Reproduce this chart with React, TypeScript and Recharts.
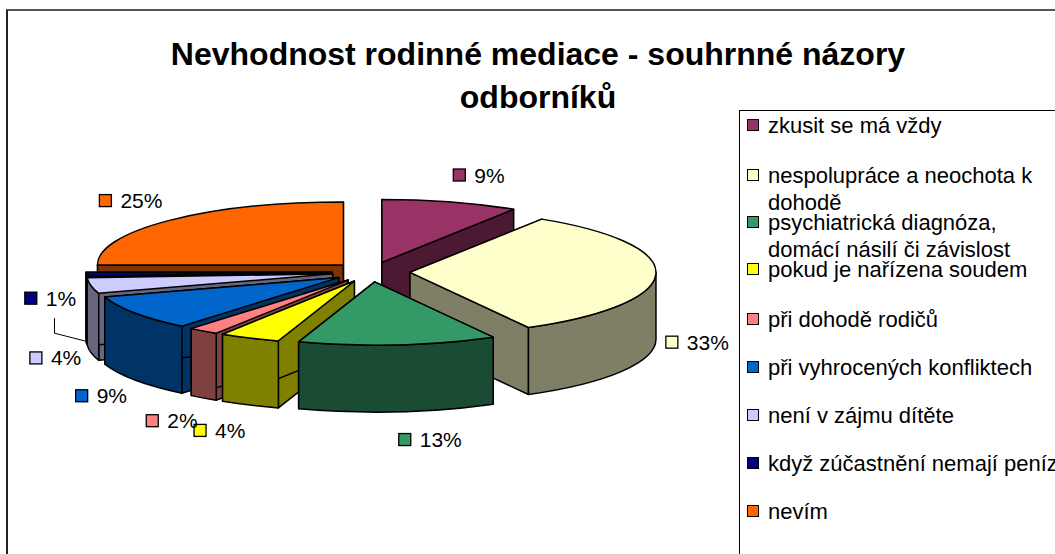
import React from "react";
import { PieChart, Pie, Legend } from "recharts";

// answers in the order they go round the pie, clockwise from 12 o'clock
const categories = [
  "zkusit se má vždy",
  "nespolupráce a neochota k\ndohodě",
  "psychiatrická diagnóza,\ndomácí násilí či závislost",
  "pokud je nařízena soudem",
  "při dohodě rodičů",
  "při vyhrocených konfliktech",
  "není v zájmu dítěte",
  "když zúčastnění nemají peníze",
  "nevím",
];
const shares = [9, 33, 13, 4, 2, 9, 4, 1, 25];

const topColors = [
  "#993366",
  "#FFFFCC",
  "#339966",
  "#FFFF00",
  "#FF8080",
  "#0066CC",
  "#CCCCFF",
  "#000080",
  "#FF6600",
];

const data = categories.map((name, i) => ({ name, value: shares[i] }));

const RAD = Math.PI / 180;
const CX = 371;
const CY = 272;
const RX = 246;
const TILT = 63 / 246;
const DEPTH = 67;
const EXPLODE = 39;
const LABEL_RX = 295;
const LABEL_RY = 101;
const FONT = 21;
const LEGEND_FONT = 22;
const FONT_FAMILY = '"Liberation Sans", Arial, Helvetica, sans-serif';

// first line centre of every legend entry, measured from the inside of the box
const legendRows = [14, 64, 111, 158, 208, 256, 304, 352, 400];

const shade = (hex: string) => {
  const n = parseInt(hex.slice(1), 16);
  return `rgb(${((n >> 16) & 255) >> 1},${((n >> 8) & 255) >> 1},${(n & 255) >> 1})`;
};

// paint the back slices first, the front ones over them
const total = shares.reduce((a, b) => a + b, 0);
let acc = 0;
const drawOrder = shares
  .map((v, i) => {
    const mid = ((acc + v / 2) / total) * 360;
    acc += v;
    return { name: categories[i], back: Math.cos(mid * RAD) };
  })
  .sort((a, b) => b.back - a.back)
  .map((d) => d.name);

function slice3d(p: any, only: string) {
  const name = p.payload?.name ?? p.name;
  if (name !== only) return <g />;
  const i = categories.indexOf(name);
  const top = topColors[i];
  const side = shade(top);
  const rx = p.outerRadius;
  const ry = rx * TILT;
  const m = p.midAngle * RAD;
  const ox = p.cx + EXPLODE * Math.cos(m);
  const oy = p.cy - EXPLODE * TILT * Math.sin(m);
  const hi = Math.max(p.startAngle, p.endAngle);
  const lo = Math.min(p.startAngle, p.endAngle);
  const pt = (deg: number, dz = 0) =>
    `${(ox + rx * Math.cos(deg * RAD)).toFixed(2)},${(oy - ry * Math.sin(deg * RAD) + dz).toFixed(2)}`;
  const c0 = `${ox.toFixed(2)},${oy.toFixed(2)}`;
  const c1 = `${ox.toFixed(2)},${(oy + DEPTH).toFixed(2)}`;
  const radial = (deg: number) => `M${c0} L${pt(deg)} L${pt(deg, DEPTH)} L${c1} Z`;
  const large = hi - lo > 180 ? 1 : 0;
  const topPath = `M${c0} L${pt(hi)} A${rx},${ry} 0 ${large} 1 ${pt(lo)} Z`;
  const fHi = Math.min(hi, 0);
  const fLo = Math.max(lo, -180);
  const wall =
    fHi > fLo
      ? `M${pt(fHi)} A${rx},${ry} 0 0 1 ${pt(fLo)} L${pt(fLo, DEPTH)} A${rx},${ry} 0 0 0 ${pt(fHi, DEPTH)} Z`
      : null;
  const line = { stroke: "#000", strokeWidth: 1.5, strokeLinejoin: "round" as const };
  return (
    <g>
      <path d={radial(hi)} fill={side} {...line} />
      <path d={radial(lo)} fill={side} {...line} />
      {wall && <path d={wall} fill={side} {...line} />}
      <path d={topPath} fill={top} {...line} />
    </g>
  );
}

const renderLabel = (p: any) => {
  const name = p.payload?.name ?? p.name;
  const i = categories.indexOf(name);
  const m = p.midAngle * RAD;
  const cosM = Math.cos(m);
  const sinM = Math.sin(m);
  let y = p.cy - LABEL_RY * sinM + (sinM < 0 ? DEPTH : 0);
  const ax = p.cx + LABEL_RX * cosM;
  const text = `${p.value}%`;
  const tw = FONT * (0.556 * (text.length - 1) + 0.889);
  const left = cosM >= 0 ? ax : ax - tw - 21;
  const small = p.percent < 0.015;
  let leader = null;
  if (small) {
    // tiny slice: label moved up, with a leader line down to the slice
    y -= 44;
    const lx = left + (21 + tw) / 2 + 4;
    const sx = p.cx + (EXPLODE + p.outerRadius) * cosM;
    const sy = p.cy - (EXPLODE + p.outerRadius) * TILT * sinM + DEPTH;
    leader = (
      <polyline
        points={`${lx},${y + 20} ${lx},${y + 35} ${sx},${sy}`}
        fill="none"
        stroke="#000"
        strokeWidth={1}
      />
    );
  }
  return (
    <g key={`lbl-${i}`}>
      {leader}
      <rect x={left} y={y - 6} width={12} height={12} fill={topColors[i]} stroke="#000" strokeWidth={1.3} />
      <text
        x={left + 21}
        y={y}
        dominantBaseline="central"
        fontSize={FONT}
        fontFamily={FONT_FAMILY}
        fill="#000"
      >
        {text}
      </text>
    </g>
  );
};

const renderLegend = (props: any) => {
  const present = new Set<string>((props.payload || []).map((e: any) => e.value));
  const names = present.size ? categories.filter((c) => present.has(c)) : categories;
  return (
    <div
      style={{
        position: "relative",
        width: 340,
        height: 460,
        border: "1px solid #000",
        boxSizing: "border-box",
        background: "#fff",
        fontFamily: FONT_FAMILY,
        fontSize: LEGEND_FONT,
        color: "#000",
      }}
    >
      {names.map((n, k) => {
        const i = categories.indexOf(n);
        const cy = legendRows[k];
        return (
          <React.Fragment key={n}>
            <div
              style={{
                position: "absolute",
                left: 7,
                top: cy - 6,
                width: 10,
                height: 10,
                background: topColors[i],
                border: "1px solid #000",
              }}
            />
            <div
              style={{
                position: "absolute",
                left: 28,
                top: cy - 13.5,
                lineHeight: "27px",
                whiteSpace: "pre",
              }}
            >
              {n}
            </div>
          </React.Fragment>
        );
      })}
    </div>
  );
};

export default function App() {
  return (
    <div
      style={{
        position: "absolute",
        left: 0,
        top: 0,
        width: 1055,
        height: 554,
        overflow: "hidden",
        background: "#fff",
        fontFamily: FONT_FAMILY,
      }}
    >
      <div
        style={{
          position: "absolute",
          left: 6,
          top: 9,
          width: 1200,
          height: 700,
          borderLeft: "2px solid #222",
          borderTop: "2px solid #555",
        }}
      />
      <PieChart
        width={1055}
        height={554}
        margin={{ top: 0, right: 0, bottom: 0, left: 0 }}
        style={{ position: "absolute", left: 0, top: 0 }}
      >
        {drawOrder.map((only, k) => (
          <Pie
            key={only}
            data={data}
            dataKey="value"
            nameKey="name"
            cx={CX}
            cy={CY}
            innerRadius={0}
            outerRadius={RX}
            startAngle={90}
            endAngle={-270}
            stroke="none"
            isAnimationActive={false}
            shape={(p: any) => slice3d(p, only)}
            activeShape={(p: any) => slice3d(p, only)}
            inactiveShape={(p: any) => slice3d(p, only)}
            legendType={k === 0 ? "square" : "none"}
            label={k === drawOrder.length - 1 ? renderLabel : false}
            labelLine={false}
          />
        ))}
        <Legend
          layout="vertical"
          align="right"
          verticalAlign="top"
          width={340}
          height={460}
          wrapperStyle={{ left: 739, top: 110, width: 340, height: 460 }}
          content={renderLegend}
        />
      </PieChart>
      <div
        style={{
          position: "absolute",
          left: 138,
          top: 33,
          width: 800,
          textAlign: "center",
          fontSize: 32,
          fontWeight: "bold",
          lineHeight: "43px",
          color: "#000",
        }}
      >
        Nevhodnost rodinné mediace - souhrnné názory odborníků
      </div>
    </div>
  );
}
